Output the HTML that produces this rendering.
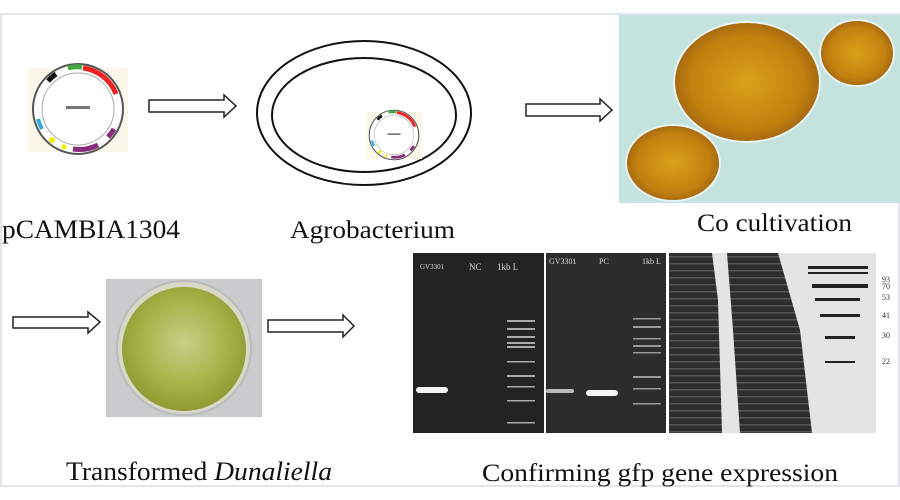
<!DOCTYPE html>
<html><head><meta charset="utf-8"><style>
html,body{margin:0;padding:0;background:#fff;}
svg{display:block;font-family:"Liberation Serif",serif;}
</style></head><body>
<svg width="900" height="500" viewBox="0 0 900 500" xmlns="http://www.w3.org/2000/svg">
<defs>
<radialGradient id="cell" cx="50%" cy="50%" r="55%">
<stop offset="0" stop-color="#d9a21a"/><stop offset="0.7" stop-color="#c2800f"/><stop offset="1" stop-color="#9a6010"/>
</radialGradient>
<radialGradient id="dish" cx="50%" cy="45%" r="55%">
<stop offset="0" stop-color="#c8cf8a"/><stop offset="0.6" stop-color="#a9b44a"/><stop offset="1" stop-color="#8f9a32"/>
</radialGradient>
<pattern id="bands" width="10" height="7" patternUnits="userSpaceOnUse">
<rect width="10" height="7" fill="#2e2e2e"/><rect y="4" width="10" height="1.5" fill="#555"/>
</pattern>
<g id="plasmid">
<circle r="45" fill="#fff" stroke="#555" stroke-width="2"/>
<circle r="36" fill="none" stroke="#aaa" stroke-width="1"/>
<path d="M5,-41 A41,41 0 0 1 38,-15" stroke="#e22" stroke-width="5" fill="none"/>
<path d="M-10,-41 A41,41 0 0 1 4,-42" stroke="#4a4" stroke-width="5" fill="none"/>
<path d="M-30,-28 A41,41 0 0 1 -22,-35" stroke="#111" stroke-width="5" fill="none"/>
<path d="M-5,40 A41,41 0 0 0 20,36" stroke="#8a2a7a" stroke-width="5" fill="none"/>
<path d="M30,28 A41,41 0 0 0 36,20" stroke="#8a2a7a" stroke-width="5" fill="none"/>
<path d="M-40,10 A41,41 0 0 0 -36,20" stroke="#3ad" stroke-width="4" fill="none"/>
<circle cx="-26" cy="31" r="3" fill="#ee0"/><circle cx="-14" cy="38" r="2.5" fill="#ee0"/>
<rect x="-12" y="-3" width="24" height="3" fill="#777"/>
</g>
</defs>
<rect x="1" y="14" width="898" height="472" fill="#fff" stroke="#c8c8dc" stroke-width="1"/>

<rect x="28" y="68" width="100" height="84" fill="#fbf7ea"/>
<use href="#plasmid" transform="translate(78,109)"/>
<path d="M149,100 H224 V95 L236,106 L224,117 V112 H149 Z" fill="#fff" stroke="#222" stroke-width="1.5"/>
<ellipse cx="364" cy="113" rx="107" ry="72" fill="none" stroke="#111" stroke-width="2"/>
<ellipse cx="364" cy="115" rx="92" ry="57" fill="none" stroke="#111" stroke-width="2"/>
<rect x="366" y="112" width="56" height="47" fill="#fbf7ea"/>
<use href="#plasmid" transform="translate(394,135) scale(0.55)"/>
<path d="M526,104 H600 V99 L612,110 L600,121 V116 H526 Z" fill="#fff" stroke="#222" stroke-width="1.5"/>
<rect x="619" y="15" width="281" height="188" fill="#c4e2de"/>
<ellipse cx="747" cy="82" rx="73" ry="60" fill="url(#cell)" stroke="#e8f4f2" stroke-width="2"/>
<ellipse cx="857" cy="53" rx="37" ry="33" fill="url(#cell)" stroke="#e8f4f2" stroke-width="2"/>
<ellipse cx="673" cy="163" rx="47" ry="38" fill="url(#cell)" stroke="#e8f4f2" stroke-width="2"/>

<text x="2" y="238" font-size="26" textLength="178" lengthAdjust="spacingAndGlyphs" fill="#111">pCAMBIA1304</text>
<text x="290" y="238" font-size="25" textLength="165" lengthAdjust="spacingAndGlyphs" fill="#111">Agrobacterium</text>
<text x="697" y="231" font-size="25" textLength="155" lengthAdjust="spacingAndGlyphs" fill="#111">Co cultivation</text>

<path d="M13,317 H88 V312 L100,322 L88,333 V328 H13 Z" fill="#fff" stroke="#222" stroke-width="1.5"/>
<rect x="106" y="279" width="156" height="138" fill="#c9cbcd"/>
<circle cx="184" cy="348" r="67" fill="#d8d8c8" stroke="#bbb" stroke-width="2"/>
<circle cx="184" cy="349" r="62" fill="url(#dish)"/>
<path d="M268,320 H343 V315 L354,326 L343,337 V332 H268 Z" fill="#fff" stroke="#222" stroke-width="1.5"/>

<rect x="413" y="253" width="131" height="180" fill="#232323"/>
<text x="420" y="269" font-size="7" fill="#ddd">GV3301</text>
<text x="469" y="270" font-size="9" fill="#ddd">NC</text>
<text x="497" y="270" font-size="9" fill="#ddd">1kb L</text>
<rect x="416" y="387" width="32" height="6" rx="3" fill="#f4f4f4"/>
<g fill="#aaa"><rect x="507" y="320" width="28" height="2"/><rect x="507" y="328" width="28" height="2"/><rect x="507" y="336" width="28" height="2"/><rect x="507" y="342" width="28" height="2"/><rect x="507" y="346" width="28" height="2"/><rect x="507" y="361" width="28" height="1.5"/><rect x="507" y="375" width="28" height="2"/><rect x="507" y="386" width="28" height="1.5"/><rect x="507" y="400" width="28" height="1.5"/><rect x="507" y="422" width="28" height="1.5"/></g>
<rect x="546" y="253" width="120" height="180" fill="#2c2c2c"/>
<text x="549" y="264" font-size="8" fill="#ddd">GV3301</text>
<text x="599" y="264" font-size="8" fill="#ddd">PC</text>
<text x="642" y="264" font-size="8" fill="#ddd">1kb L</text>
<rect x="546" y="389" width="28" height="4" rx="2" fill="#bbb"/>
<rect x="586" y="390" width="32" height="6" rx="3" fill="#f4f4f4"/>
<g fill="#999"><rect x="633" y="318" width="28" height="1.5"/><rect x="633" y="326" width="28" height="2"/><rect x="633" y="338" width="28" height="1.5"/><rect x="633" y="345" width="28" height="2"/><rect x="633" y="352" width="28" height="1.5"/><rect x="633" y="376" width="28" height="2"/><rect x="633" y="388" width="28" height="1.5"/><rect x="633" y="403" width="28" height="1.5"/></g>

<rect x="669" y="253" width="207" height="180" fill="#e4e4e4"/>
<polygon points="669,253 712,253 718,300 722,433 669,433" fill="url(#bands)"/>
<polygon points="727,253 778,253 800,330 812,433 740,433 733,330" fill="url(#bands)"/>
<g fill="#222"><rect x="808" y="266" width="60" height="3"/><rect x="808" y="272" width="60" height="2"/><rect x="812" y="284" width="56" height="4"/><rect x="815" y="298" width="45" height="3"/><rect x="820" y="314" width="40" height="3"/><rect x="825" y="336" width="30" height="3"/><rect x="825" y="361" width="30" height="2"/></g>
<g font-size="8" fill="#333"><text x="882" y="282">93</text><text x="882" y="289">70</text><text x="882" y="300">53</text><text x="882" y="318">41</text><text x="882" y="338">30</text><text x="882" y="364">22</text></g>

<text x="66" y="480" font-size="26" textLength="266" lengthAdjust="spacingAndGlyphs" fill="#111">Transformed <tspan font-style="italic">Dunaliella</tspan></text>
<text x="482" y="481" font-size="25" textLength="356" lengthAdjust="spacingAndGlyphs" fill="#111">Confirming gfp gene expression</text>
</svg>
</body></html>
